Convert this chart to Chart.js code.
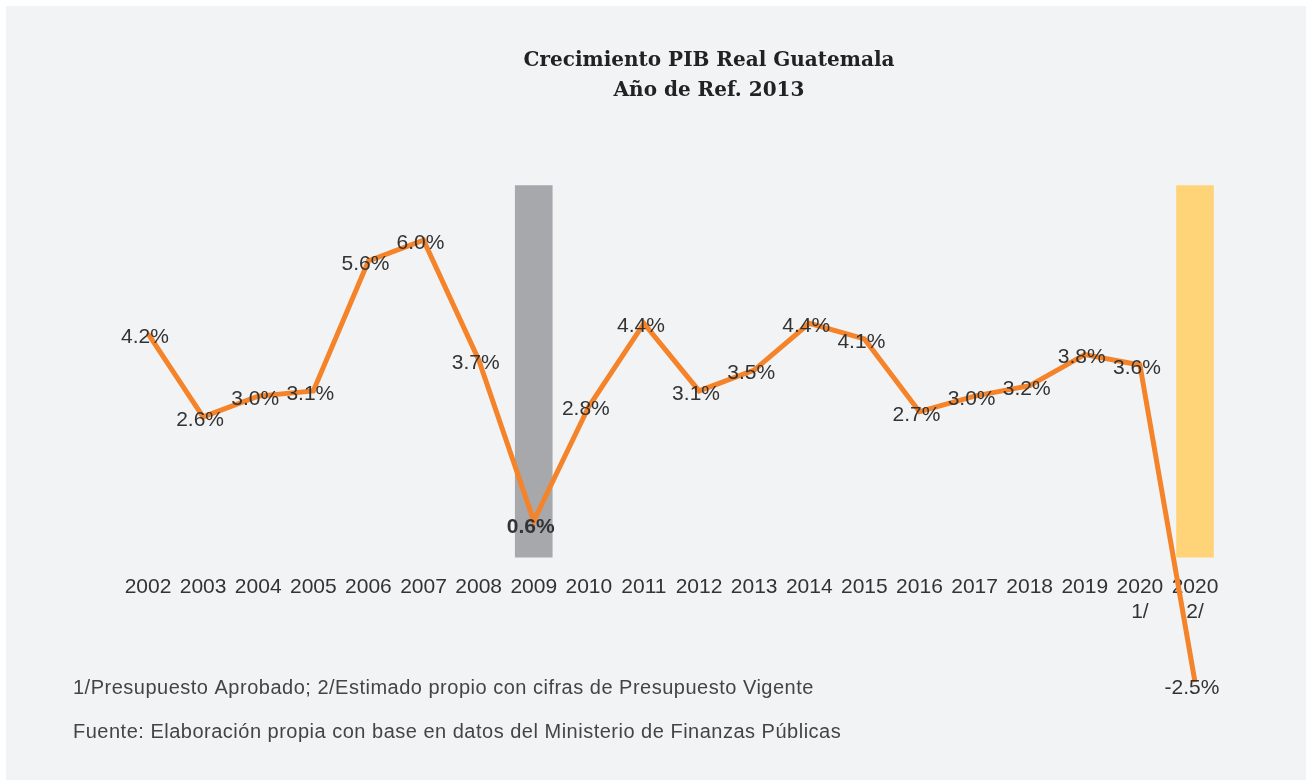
<!DOCTYPE html>
<html>
<head>
<meta charset="utf-8">
<script src="https://cdn.jsdelivr.net/npm/chart.js@4.4.1/dist/chart.umd.min.js"></script>
<style>
  html, body { margin: 0; padding: 0; background: #ffffff; }
  #wrap { width: 1309px; height: 780px; }
</style>
</head>
<body>
<div id="wrap"><canvas id="grafico"></canvas></div>
<script>
// datos
const anios = ['2002', '2003', '2004', '2005', '2006', '2007', '2008', '2009', '2010', '2011',
  '2012', '2013', '2014', '2015', '2016', '2017', '2018', '2019', ['2020', '1/'], ['2020', '2/']];
const crecimiento = [4.2, 2.6, 3.0, 3.1, 5.6, 6.0, 3.7, 0.6, 2.8, 4.4,
  3.1, 3.5, 4.4, 4.1, 2.7, 3.0, 3.2, 3.8, 3.6, -2.5];
const crisis2009 = [null, null, null, null, null, null, null, [-0.1, 7.05], null, null,
  null, null, null, null, null, null, null, null, null, null];
const estimado2020 = [null, null, null, null, null, null, null, null, null, null,
  null, null, null, null, null, null, null, null, null, [-0.1, 7.05]];
const titulo = ['Crecimiento PIB Real Guatemala', 'Año de Ref. 2013'];
const notas = [
  '1/Presupuesto Aprobado; 2/Estimado propio con cifras de Presupuesto Vigente',
  'Fuente: Elaboración propia con base en datos del Ministerio de Finanzas Públicas'
];

const fondo = {
  id: 'fondo',
  beforeDraw(chart) {
    const ctx = chart.ctx;
    ctx.save();
    ctx.fillStyle = '#ffffff';
    ctx.fillRect(0, 0, chart.width, chart.height);
    ctx.fillStyle = '#f2f3f5';
    ctx.fillRect(6, 6, chart.width - 9, chart.height - 6);
    // titulo
    ctx.fillStyle = '#222222';
    ctx.textAlign = 'center';
    ctx.textBaseline = 'middle';
    ctx.font = 'bold 20px "DejaVu Serif", "Liberation Serif", serif';
    ctx.fillText(titulo[0], 709, 61);
    ctx.fillText(titulo[1], 709, 91);
    ctx.restore();
  }
};

const etiquetas = {
  id: 'etiquetas',
  afterDatasetsDraw(chart) {
    const ctx = chart.ctx;
    const meta = chart.getDatasetMeta(0);
    ctx.save();
    ctx.textAlign = 'center';
    ctx.textBaseline = 'middle';
    ctx.fillStyle = '#333333';
    meta.data.forEach((p, i) => {
      const v = crecimiento[i];
      ctx.font = (i === 7 ? 'bold ' : '') + '21px "Liberation Sans", Arial, sans-serif';
      let dy = 3;
      if (i === 7) dy = 6;
      if (i === 19) dy = 6;
      ctx.fillText(v.toFixed(1) + '%', p.x - 3, p.y + dy);
    });
    // notas al pie
    ctx.textAlign = 'left';
    ctx.font = '20px "Liberation Sans", Arial, sans-serif';
    ctx.letterSpacing = '0.5px';
    ctx.fillStyle = '#444444';
    ctx.fillText(notas[0], 73, 688);
    ctx.fillText(notas[1], 73, 732);
    ctx.restore();
  }
};

const canvas = document.getElementById('grafico');
new Chart(canvas.getContext('2d'), {
  type: 'line',
  data: {
    labels: anios,
    datasets: [
      {
        label: 'Crecimiento',
        data: crecimiento,
        borderColor: '#f5832a',
        borderWidth: 5,
        pointRadius: 0,
        tension: 0,
        fill: false,
        order: 0
      },
      {
        type: 'bar',
        label: '2009',
        data: crisis2009,
        backgroundColor: '#a7a8ab',
        barThickness: 37,
        grouped: false,
        clip: false,
        order: 1
      },
      {
        type: 'bar',
        label: '2020',
        data: estimado2020,
        backgroundColor: '#ffd378',
        barThickness: 37,
        grouped: false,
        clip: false,
        order: 1
      }
    ]
  },
  options: {
    responsive: true,
    maintainAspectRatio: false,
    animation: false,
    layout: { padding: { top: 183, left: 148, right: 114, bottom: 72 } },
    plugins: {
      legend: { display: false },
      tooltip: { enabled: false },
      title: { display: false }
    },
    scales: {
      x: {
        offset: false,
        position: { y: -0.28 },
        grid: { display: false },
        border: { display: false },
        ticks: {
          color: '#333333',
          padding: 0,
          maxRotation: 0,
          autoSkip: false,
          font: { family: '"Liberation Sans", Arial, sans-serif', size: 21 }
        }
      },
      y: {
        display: false,
        min: -3,
        max: 7.1
      }
    }
  },
  plugins: [fondo, etiquetas]
});
</script>
</body>
</html>
